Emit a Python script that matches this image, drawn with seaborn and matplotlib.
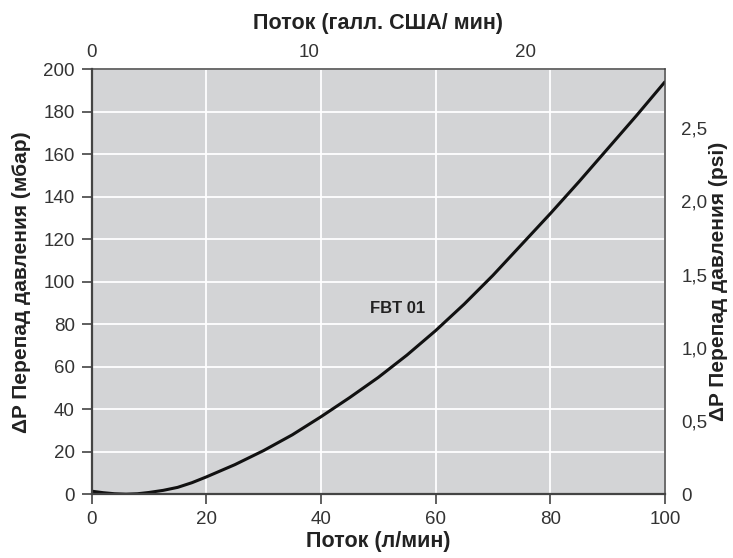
import seaborn as sns
import matplotlib.pyplot as plt
import matplotlib.ticker as mticker
import pandas as pd

# flow (l/min) vs pressure drop (mbar)
flow = [0, 2, 4, 6, 8, 10, 12.5, 15, 17.5, 20, 25, 30, 35, 40, 45, 50, 55, 60, 65, 70, 75, 80, 85, 90, 95, 100]
dp = [1.5, 0.8, 0.3, 0.1, 0.3, 0.9, 1.9, 3.3, 5.5, 8.2, 14, 20.6, 28, 36.5, 45.5, 55, 65.5, 77, 89.5, 103, 117.5, 132, 147, 162.5, 178, 194]

gal_ticks = [0, 10, 20]
psi_ticks = [0, 0.5, 1.0, 1.5, 2.0, 2.5]

L_PER_GAL = 3.785
MBAR_PER_PSI = 68.95

df = pd.DataFrame({"flow": flow, "dp": dp})

sns.set_theme(style="white")
plt.rcParams["font.family"] = ["Liberation Sans", "DejaVu Sans"]

TICK_FONT = ["Liberation Sans Narrow", "Liberation Sans", "DejaVu Sans"]
TICK_SIZE = 13.5
LABEL_SIZE = 15.5

fig = plt.figure(figsize=(7.33, 5.58), dpi=100)
ax = fig.add_axes([0.125, 0.114, 0.782, 0.762])
ax.set_facecolor("#d3d4d6")

sns.lineplot(data=df, x="flow", y="dp", ax=ax, color="#111111", linewidth=2.2)

ax.set_xlim(0, 100)
ax.set_ylim(0, 200)
ax.set_xticks(range(0, 101, 20))
ax.set_yticks(range(0, 201, 20))
ax.grid(True, color="white", linewidth=1.3)
ax.set_axisbelow(True)

ax.tick_params(axis="both", colors="#444444", labelcolor="#333333",
               direction="out", length=7, width=1.2, left=True, bottom=True,
               labelsize=TICK_SIZE, labelfontfamily=TICK_FONT, pad=5)

for side in ["left", "bottom"]:
    ax.spines[side].set_color("#444444")
    ax.spines[side].set_linewidth(1.6)
for side in ["top", "right"]:
    ax.spines[side].set_color("#444444")
    ax.spines[side].set_linewidth(1.1)

ax.set_xlabel("Поток (л/мин)", fontsize=LABEL_SIZE, fontweight="bold", color="#222222", labelpad=2)
ax.set_ylabel("ΔP Перепад давления (мбар)", fontsize=15, fontweight="bold", color="#222222", labelpad=9)

# top axis: US gallons per minute
top = ax.secondary_xaxis("top", functions=(lambda x: x / L_PER_GAL, lambda g: g * L_PER_GAL))
top.set_xticks(gal_ticks)
top.tick_params(length=0, pad=6, labelcolor="#333333", labelsize=TICK_SIZE, labelfontfamily=TICK_FONT)
top.set_xlabel("Поток (галл. США/ мин)", fontsize=LABEL_SIZE, fontweight="bold", color="#222222", labelpad=11)
top.spines["top"].set_visible(False)

# right axis: psi
right = ax.secondary_yaxis("right", functions=(lambda m: m / MBAR_PER_PSI, lambda p: p * MBAR_PER_PSI))
right.set_yticks(psi_ticks)
right.yaxis.set_major_formatter(mticker.FuncFormatter(
    lambda v, pos: "0" if v == 0 else f"{v:.1f}".replace(".", ",")))
right.tick_params(length=0, pad=12, labelcolor="#333333", labelsize=TICK_SIZE, labelfontfamily=TICK_FONT)
right.set_ylabel("ΔP Перепад давления (psi)", fontsize=15, fontweight="bold", color="#222222", labelpad=1)
right.spines["right"].set_visible(False)

ax.text(48.5, 87.5, "FBT 01", fontsize=12, fontweight="bold", color="#222222", va="center")

fig.savefig("out.png", dpi=100)
